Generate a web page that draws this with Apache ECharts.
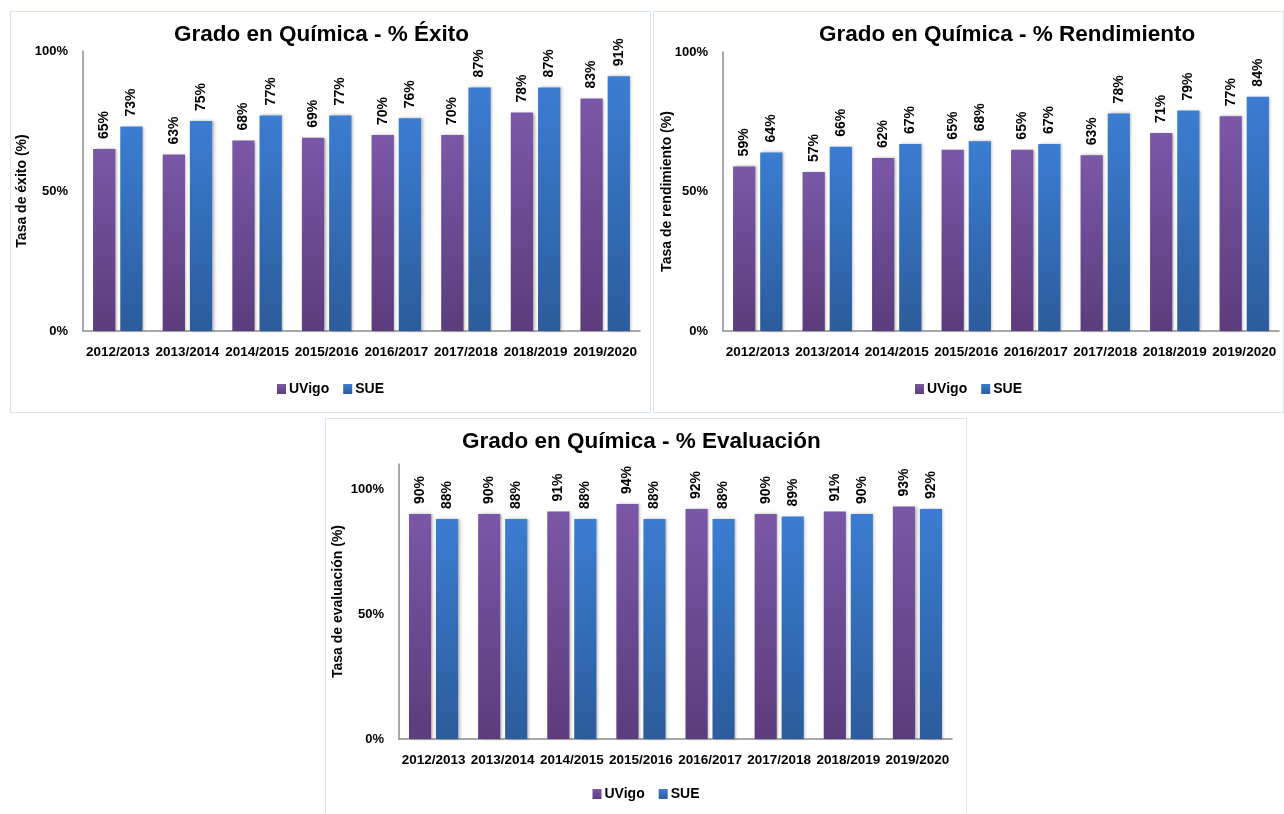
<!doctype html>
<html>
  <head>
    <meta charset="utf-8">
    <title>Grado en Química</title>
    <script src="https://cdn.jsdelivr.net/npm/echarts@6/dist/echarts.min.js"></script>
    <style>
      body { margin: 0; background: #fff; }
      .box { position: absolute; border: 1px solid #dbe5f1; box-sizing: border-box; }
    </style>
  </head>
  <body>
    <div id="exito" class="box" style="left:10px;top:11px;width:641px;height:402px;"></div>
    <div id="rend" class="box" style="left:653px;top:11px;width:631px;height:402px;"></div>
    <div id="eval" class="box" style="left:325px;top:418px;width:642px;height:400px;"></div>

    <script type="text/javascript">
      // datos (porcentajes)
      var cursos = ['2012/2013', '2013/2014', '2014/2015', '2015/2016', '2016/2017', '2017/2018', '2018/2019', '2019/2020'];

      var exitoUVigo = [65, 63, 68, 69, 70, 70, 78, 83];
      var exitoSUE   = [73, 75, 77, 77, 76, 87, 87, 91];

      var rendUVigo = [59, 57, 62, 65, 65, 63, 71, 77];
      var rendSUE   = [64, 66, 67, 68, 67, 78, 79, 84];

      var evalUVigo = [90, 90, 91, 94, 92, 90, 91, 93];
      var evalSUE   = [88, 88, 88, 88, 88, 89, 90, 92];

      var yTicks = [0, 50, 100];

      var FONT = '"Liberation Sans", Arial, sans-serif';

      function grad(top, bottom) {
        return new echarts.graphic.LinearGradient(0, 0, 0, 1, [
          { offset: 0, color: top },
          { offset: 1, color: bottom }
        ]);
      }

      function serie(name, data, top, bottom) {
        return {
          name: name,
          type: 'bar',
          data: data,
          barWidth: '32%',
          barGap: '22%',
          itemStyle: {
            color: grad(top, bottom),
            shadowColor: 'rgba(0,0,0,0.3)',
            shadowBlur: 3,
            shadowOffsetX: 1.5,
            shadowOffsetY: 0
          },
          label: {
            show: true,
            position: 'top',
            rotate: 90,
            align: 'left',
            verticalAlign: 'middle',
            distance: 10,
            formatter: '{c}%',
            fontFamily: FONT,
            fontWeight: 'bold',
            fontSize: 14,
            color: '#000'
          }
        };
      }

      function opcion(titulo, titleLeft, yName, nameGap, grid, yMax, uvigo, sue) {
        grid.outerBoundsMode = 'none';
        return {
          animation: false,
          textStyle: { fontFamily: FONT },
          title: {
            text: titulo,
            left: titleLeft,
            top: 6,
            textStyle: { fontFamily: FONT, fontWeight: 'bold', fontSize: 22.5, color: '#000' }
          },
          legend: {
            data: ['UVigo', 'SUE'],
            bottom: 11,
            left: 'center',
            icon: 'rect',
            itemWidth: 9,
            itemHeight: 10,
            itemGap: 14,
            textStyle: { fontFamily: FONT, fontWeight: 'bold', fontSize: 14, color: '#000', padding: [0, 0, 0, -2] }
          },
          grid: grid,
          xAxis: {
            type: 'category',
            data: cursos,
            axisLine: { lineStyle: { color: '#8c8c8c', width: 1.5 } },
            axisTick: { show: false },
            axisLabel: { margin: 14, fontFamily: FONT, fontWeight: 'bold', fontSize: 13.5, color: '#000', interval: 0 }
          },
          yAxis: {
            type: 'value',
            min: 0,
            max: yMax,
            interval: 50,
            name: yName,
            nameLocation: 'middle',
            nameGap: nameGap,
            nameMoveOverlap: false,
            nameTextStyle: { fontFamily: FONT, fontWeight: 'bold', fontSize: 14, color: '#000' },
            axisLine: { show: true, lineStyle: { color: '#8c8c8c', width: 1.5 } },
            axisTick: { show: false },
            splitLine: { show: false },
            axisLabel: {
              margin: 15,
              fontFamily: FONT,
              fontWeight: 'bold',
              fontSize: 13,
              color: '#000',
              formatter: function (v) { return yTicks.indexOf(v) >= 0 ? v + '%' : ''; }
            }
          },
          series: [
            serie('UVigo', uvigo, '#7b57a7', '#5c3c7c'),
            serie('SUE', sue, '#3b7dd2', '#2c5c9b')
          ]
        };
      }

      var c1 = echarts.init(document.getElementById('exito'));
      c1.setOption(opcion('Grado en Química - % Éxito', 158, 'Tasa de éxito (%)', 54,
        { left: 72, right: 10, top: 39, bottom: 81 }, 100, exitoUVigo, exitoSUE));

      var c2 = echarts.init(document.getElementById('rend'));
      c2.setOption(opcion('Grado en Química - % Rendimiento', 160, 'Tasa de rendimiento (%)', 49,
        { left: 69, right: 4, top: 40, bottom: 81 }, 100, rendUVigo, rendSUE));

      var c3 = echarts.init(document.getElementById('eval'));
      c3.setOption(opcion('Grado en Química - % Evaluación', 131, 'Tasa de evaluación (%)', 54,
        { left: 73, right: 14, top: 45, bottom: 78 }, 110, evalUVigo, evalSUE));
    </script>
  </body>
</html>
